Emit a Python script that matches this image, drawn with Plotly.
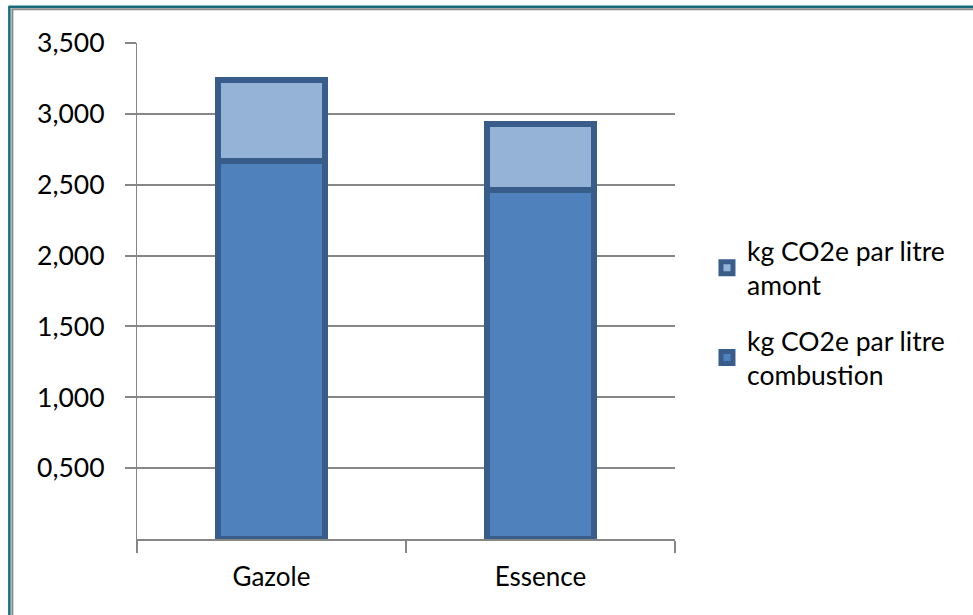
import plotly.graph_objects as go

categories = ["Gazole", "Essence"]
combustion = [2.67, 2.46]
amont = [0.57, 0.47]
series_names = ["kg CO2e par litre<br>combustion", "kg CO2e par litre<br>amont"]
ytick_vals = [0.5, 1.0, 1.5, 2.0, 2.5, 3.0, 3.5]

W, H = 973, 615
L, R, T, B = 136.7, 675.0, 43.3, 539.3
pw, ph = R - L, B - T

def px(x):
    return (x - L) / pw

def py(y):
    return 1 - (y - T) / ph

border = "#385D8A"
grid = "#868686"
font_family = "Lato, 'Noto Sans', sans-serif"

fig = go.Figure()
fig.add_trace(go.Bar(
    x=categories, y=combustion, name=series_names[0], width=0.4,
    legendgroup="comb", legendrank=2,
    marker=dict(color="#4F81BD", line=dict(color=border, width=6)),
))
fig.add_trace(go.Bar(
    x=categories, y=amont, name=series_names[1], width=0.4,
    legendgroup="amont", legendrank=1,
    marker=dict(color="#95B3D7", line=dict(color=border, width=6)),
))

shapes = [
    dict(type="line", xref="paper", yref="paper", x0=px(9), x1=px(9), y0=py(7), y1=py(700),
         line=dict(color="#166A7B", width=2.5)),
    dict(type="line", xref="paper", yref="paper", x0=px(12), x1=px(12), y0=py(9.5), y1=py(700),
         line=dict(color="#8A8A8A", width=2)),
    dict(type="line", xref="paper", yref="paper", x0=px(8), x1=px(1100), y0=py(7), y1=py(7),
         line=dict(color="#166A7B", width=2.5)),
    dict(type="line", xref="paper", yref="paper", x0=px(11), x1=px(1100), y0=py(9.5), y1=py(9.5),
         line=dict(color="#8A8A8A", width=2)),
]

fig.update_layout(
    width=W, height=H,
    margin=dict(l=L, r=W - R, t=T, b=H - B, pad=0),
    barmode="stack",
    plot_bgcolor="white", paper_bgcolor="white",
    separators=",.",
    font=dict(family=font_family, size=26, color="#000000"),
    showlegend=True,
    legend=dict(
        x=px(707), y=py(227), xanchor="left", yanchor="top",
        traceorder="grouped", tracegroupgap=18,
        font=dict(family=font_family, size=26.5, color="#000000"),
        bgcolor="rgba(0,0,0,0)", itemwidth=30,
    ),
    xaxis=dict(
        showline=True, linecolor=grid, linewidth=2,
        ticks="outside", tickson="boundaries", ticklen=12, tickcolor=grid, tickwidth=1.5,
        ticklabelstandoff=14,
        tickfont=dict(family=font_family, size=26),
        showgrid=False, zeroline=False,
    ),
    yaxis=dict(
        range=[0, 3.5], tickvals=ytick_vals, tickformat=".3f",
        showline=True, linecolor=grid, linewidth=1.2,
        ticks="outside", ticklen=11, tickcolor=grid, tickwidth=2,
        ticklabelstandoff=15,
        showgrid=True, gridcolor=grid, gridwidth=2,
        zeroline=False,
        tickfont=dict(family=font_family, size=26.5),
    ),
    shapes=shapes,
)

fig.write_html("out.html", config={"displayModeBar": False},
               post_script="document.body.style.margin='0px';")
